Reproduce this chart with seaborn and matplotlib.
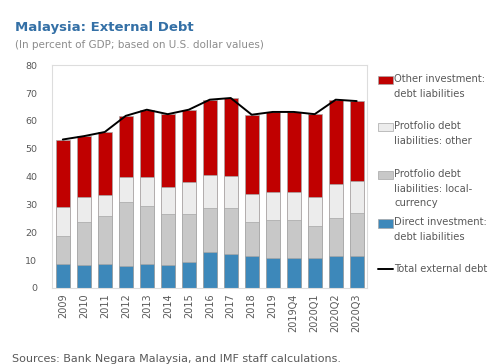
import numpy as np
import pandas as pd
import seaborn as sns
import matplotlib.pyplot as plt
from matplotlib.patches import Rectangle
from matplotlib.lines import Line2D

# data (percent of GDP)
periods = ['2009', '2010', '2011', '2012', '2013', '2014', '2015', '2016', '2017',
           '2018', '2019', '2019Q4', '2020Q1', '2020Q2', '2020Q3']
direct_investment = [8.5, 8.3, 8.5, 7.8, 8.5, 8.3, 9.2, 12.8, 12.1, 11.5, 10.9, 10.9, 10.7, 11.5, 11.5]
portfolio_local = [10.2, 15.2, 17.3, 23.1, 21.0, 18.2, 17.2, 16.0, 16.7, 12.3, 13.5, 13.5, 11.5, 13.5, 15.3]
portfolio_other = [10.2, 9.0, 7.5, 8.8, 10.2, 9.8, 11.7, 11.7, 11.4, 10.1, 10.1, 10.1, 10.5, 12.5, 11.5]
other_investment = [24.4, 22.0, 22.7, 22.1, 24.3, 26.1, 25.9, 27.1, 28.0, 28.3, 28.7, 28.7, 29.7, 30.1, 28.8]
total_external = [53.3, 54.5, 56.0, 61.8, 64.0, 62.4, 64.0, 67.6, 68.2, 62.2, 63.2, 63.2, 62.4, 67.6, 67.1]

series_names = ['Other investment:\ndebt liabilities',
                'Protfolio debt\nliabilities: other',
                'Protfolio debt\nliabilities: local-\ncurrency',
                'Direct investment:\ndebt liabilities']
series_colors = ['#C00000', '#ECECEC', '#C8C8C8', '#3D88BA']

df = pd.DataFrame({'period': periods,
                   'direct': direct_investment,
                   'local': portfolio_local,
                   'other_pf': portfolio_other,
                   'other_inv': other_investment,
                   'total': total_external})
# stacked tops, drawn from the top layer down
df['top_direct'] = df['direct']
df['top_local'] = df['top_direct'] + df['local']
df['top_other_pf'] = df['top_local'] + df['other_pf']
df['top_other_inv'] = df['top_other_pf'] + df['other_inv']

sns.set_style('white')
plt.rcParams['font.family'] = ['DejaVu Sans']

fig = plt.figure(figsize=(5.03, 3.64), dpi=100)
ax = fig.add_axes([0.104, 0.209, 0.626, 0.612])

for col, color in zip(['top_other_inv', 'top_other_pf', 'top_local', 'top_direct'], series_colors):
    sns.barplot(data=df, x='period', y=col, color=color, width=0.68, saturation=1,
                edgecolor='#A6A6A6', linewidth=0.5, ax=ax)

sns.lineplot(data=df, x='period', y='total', color='black', linewidth=1.4, sort=False, ax=ax)

ax.set_ylim(0, 80)
ax.set_yticks(range(0, 81, 10))
ax.set_xlim(-0.5, len(periods) - 0.5)
ax.set_xlabel('')
ax.set_ylabel('')
ax.tick_params(axis='y', length=0, pad=11, labelsize=6.8, labelcolor='#595959')
ax.tick_params(axis='x', length=0, pad=4, labelsize=7, labelcolor='#595959', rotation=90)
for sp in ax.spines.values():
    sp.set_color('#DDDDDD')
    sp.set_linewidth(0.8)

# titles and source
fig.text(0.03, 0.925, 'Malaysia: External Debt', fontsize=9.5, fontweight='bold',
         color='#3470A6', va='center')
fig.text(0.03, 0.877, '(In percent of GDP; based on U.S. dollar values)', fontsize=7.5,
         color='#8C8C8C', va='center')
fig.text(0.024, 0.014, 'Sources: Bank Negara Malaysia, and IMF staff calculations.', fontsize=8,
         color='#595959', va='center')

# legend, hand-placed to follow the reference
legend_rows = [0.780, 0.651, 0.519, 0.387]
for name, color, ytop in zip(series_names, series_colors, legend_rows):
    fig.patches.append(Rectangle((0.752, ytop - 0.012), 0.030, 0.024, transform=fig.transFigure,
                                 facecolor=color, edgecolor='#A6A6A6', linewidth=0.5))
    fig.text(0.784, ytop + 0.016, name, fontsize=7.2, color='#595959', va='top',
             linespacing=1.55)
fig.lines.append(Line2D([0.752, 0.782], [0.262, 0.262], transform=fig.transFigure,
                        color='black', linewidth=1.4))
fig.text(0.784, 0.262, 'Total external debt', fontsize=7.2, color='#595959', va='center')

fig.savefig('out.png', dpi=100)
